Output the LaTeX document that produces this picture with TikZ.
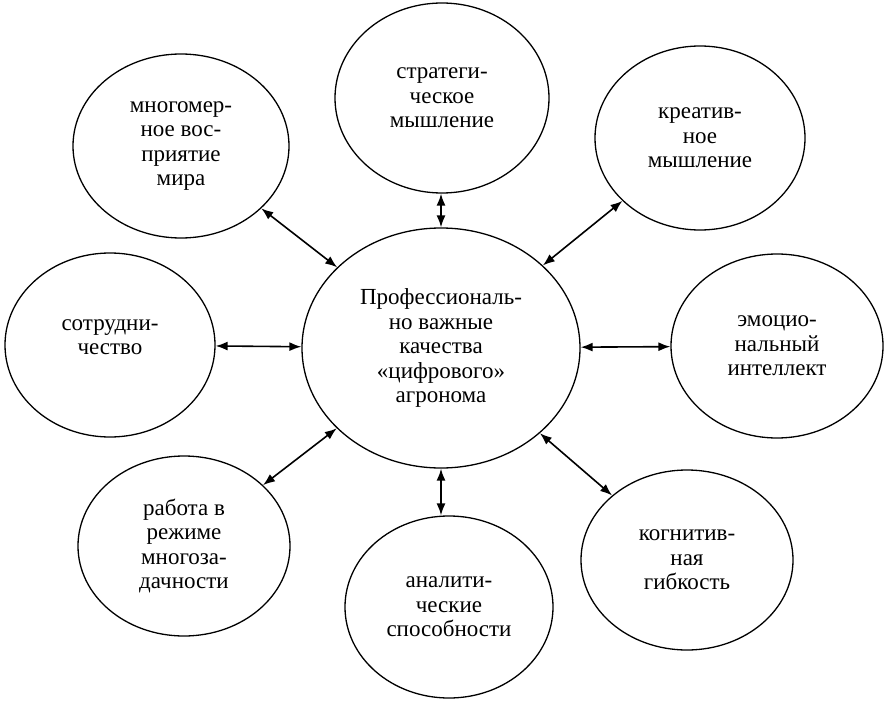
\documentclass[tikz,border=0pt]{standalone}
\usepackage{fontspec}
\setmainfont{Liberation Serif}
\usetikzlibrary{shapes.geometric,arrows.meta}
\tikzset{
  oval/.style={draw=black, line width=1.3pt, ellipse, inner sep=0pt,
    minimum width=212pt, minimum height=184pt, align=center,
    font=\fontsize{23pt}{24.5pt}\selectfont},
  bigoval/.style={oval, minimum width=278pt, minimum height=240pt},
  txt/.style={inner sep=0pt, align=center, font=\fontsize{23pt}{24.5pt}\selectfont},
  link/.style={line width=1.6pt, {Latex[length=12pt,width=9pt]}-{Latex[length=12pt,width=9pt]}}
}
\begin{document}
\begin{tikzpicture}[x=1pt,y=-1pt]
\useasboundingbox[fill=white] (0,0) rectangle (886,706);
\node[bigoval] (c) at (441,348) {Профессиональ-\\но важные\\качества\\«цифрового»\\агронома};
\node[oval, minimum width=216pt] (tl) at (181,146) {многомер-\\ное вос-\\приятие\\мира};
\node[oval, minimum width=214pt, minimum height=190pt] (t) at (442,98) {стратеги-\\ческое\\мышление};
\node[oval, minimum width=210pt] (tr) at (700,138) {креатив-\\ное\\мышление};
\node[oval, minimum width=210pt] (l) at (110,345) {};
\node[txt] (ltext) at (110,337) {сотрудни-\\чество};
\node[oval] (r) at (777,346) {эмоцио-\\нальный\\интеллект};
\node[oval, minimum height=180pt] (bl) at (184,546) {работа в\\режиме\\многоза-\\дачности};
\node[oval, minimum width=208pt, minimum height=182pt] (b) at (449,607) {аналити-\\ческие\\способности};
\node[oval, minimum height=180pt] (br) at (687,560) {когнитив-\\ная\\гибкость};
\draw[link] (tl) -- (c);
\draw[link] (c.north) -- (c.north |- t.south);
\draw[link] (tr) -- (c);
\draw[link] (l) -- (c);
\draw[link] (c) -- (r);
\draw[link] (bl) -- (c);
\draw[link] (c.south) -- (c.south |- b.north);
\draw[link] (c) -- (br);
\end{tikzpicture}
\end{document}
